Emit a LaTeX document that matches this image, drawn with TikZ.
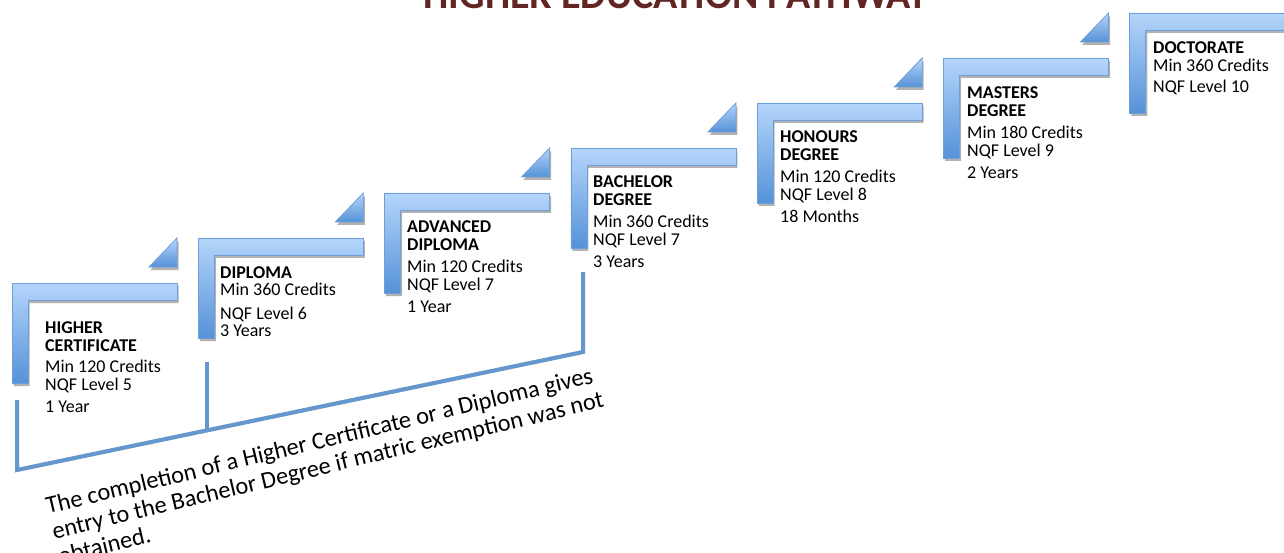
\documentclass[tikz,border=0pt]{standalone}
\usepackage{fontspec}
\setmainfont{Carlito}
\usetikzlibrary{shadows}
\definecolor{titlered}{HTML}{632523}
\definecolor{stepborder}{HTML}{6E9FD6}
\definecolor{steptop}{HTML}{B5D5FB}
\definecolor{stepbot}{HTML}{5592D8}
\definecolor{linkblue}{HTML}{6497CD}
\newcommand\stk[2]{\vtop{\baselineskip=#1\lineskiplimit=-20pt\lineskip=0pt #2}}
\tikzset{
  stepshape/.style={draw=stepborder, line width=0.8pt, top color=steptop, bottom color=stepbot,
    drop shadow={shadow xshift=1.5pt, shadow yshift=-3pt, opacity=0.3, fill=black}},
  steptxt/.style={anchor=base west, inner sep=0pt, font=\fontsize{18}{18}\selectfont},
  notetxt/.style={anchor=base west, inner sep=0pt, font=\fontsize{24.3}{26}\selectfont},
  titletxt/.style={anchor=base, inner sep=0pt, text=titlered, font=\fontsize{40}{40}\selectfont\bfseries},
  linkline/.style={draw=linkblue, line width=4pt, line join=miter},
  linkshadow/.style={draw=black, opacity=0.18, line width=4pt},
}
\begin{document}
\begin{tikzpicture}[x=1pt, y=-1pt]
\clip (0,0) rectangle (1284,553);
\fill[white] (0,0) rectangle (1284,553);
% title
\node[titletxt] (title) at (676,9) {HIGHER EDUCATION PATHWAY};
% steps
\foreach \i in {0,...,6} {
  \pgfmathsetmacro\X{12+186.3*\i}
  \pgfmathsetmacro\Y{283-45*\i}
  \path[stepshape] (\X,\Y) -- ++(165,0) -- ++(0,17) -- ++(-149,0) -- ++(0,83) -- ++(-16,0) -- cycle;
  \path[stepshape] (\X+137,\Y-16) -- ++(28,0) -- ++(0,-29) -- cycle;
}
% texts
\node[steptxt] (hc) at (45,333) {\stk{18pt}{\hbox{\bfseries HIGHER}\hbox{\bfseries CERTIFICATE}\vskip3.5pt\hbox{Min 120 Credits}\hbox{NQF Level 5}\vskip4pt\hbox{1 Year}}};
\node[steptxt] (dip) at (220,279) {\stk{17pt}{\hbox{\bfseries DIPLOMA}\hbox{Min 360 Credits}\vskip6pt\hbox{NQF Level 6}\hbox{3 Years}}};
\node[steptxt] (adv) at (407,233) {\stk{18pt}{\hbox{\bfseries ADVANCED}\hbox{\bfseries DIPLOMA}\vskip3.5pt\hbox{Min 120 Credits}\hbox{NQF Level 7}\vskip4pt\hbox{1 Year}}};
\node[steptxt] (bach) at (593,188) {\stk{18pt}{\hbox{\bfseries BACHELOR}\hbox{\bfseries DEGREE}\vskip3.5pt\hbox{Min 360 Credits}\hbox{NQF Level 7}\vskip4pt\hbox{3 Years}}};
\node[steptxt] (hon) at (780,143) {\stk{18pt}{\hbox{\bfseries HONOURS}\hbox{\bfseries DEGREE}\vskip3.5pt\hbox{Min 120 Credits}\hbox{NQF Level 8}\vskip4pt\hbox{18 Months}}};
\node[steptxt] (mas) at (967,99) {\stk{18pt}{\hbox{\bfseries MASTERS}\hbox{\bfseries DEGREE}\vskip3.5pt\hbox{Min 180 Credits}\hbox{NQF Level 9}\vskip4pt\hbox{2 Years}}};
\node[steptxt] (doc) at (1153,54) {\stk{18pt}{\hbox{\bfseries DOCTORATE}\hbox{Min 360 Credits}\vskip3pt\hbox{NQF Level 10}}};
% bracket
\coordinate (b1top) at (17,400);
\coordinate (b1bot) at (17,470);
\coordinate (b2top) at (207,362);
\coordinate (b2bot) at (207,430);
\coordinate (b3top) at (583,272);
\coordinate (b3bot) at (583,352);
\begin{scope}[xshift=1.5pt, yshift=-2.5pt]
  \draw[linkshadow] (b1top) -- (b1bot) -- (b3bot) -- (b3top);
  \draw[linkshadow] (b2top) -- (b2bot);
\end{scope}
\draw[linkline] (b1top) -- (b1bot) -- (b3bot) -- (b3top);
\draw[linkline] (b2top) -- (b2bot);
% note
\node[notetxt, rotate=13.5] (note) at (48,514) {\stk{26pt}{\hbox{The completion of a Higher Certificate or a Diploma gives}\hbox{entry to the Bachelor Degree if matric exemption was not}\hbox{obtained.}}};
\end{tikzpicture}
\end{document}
